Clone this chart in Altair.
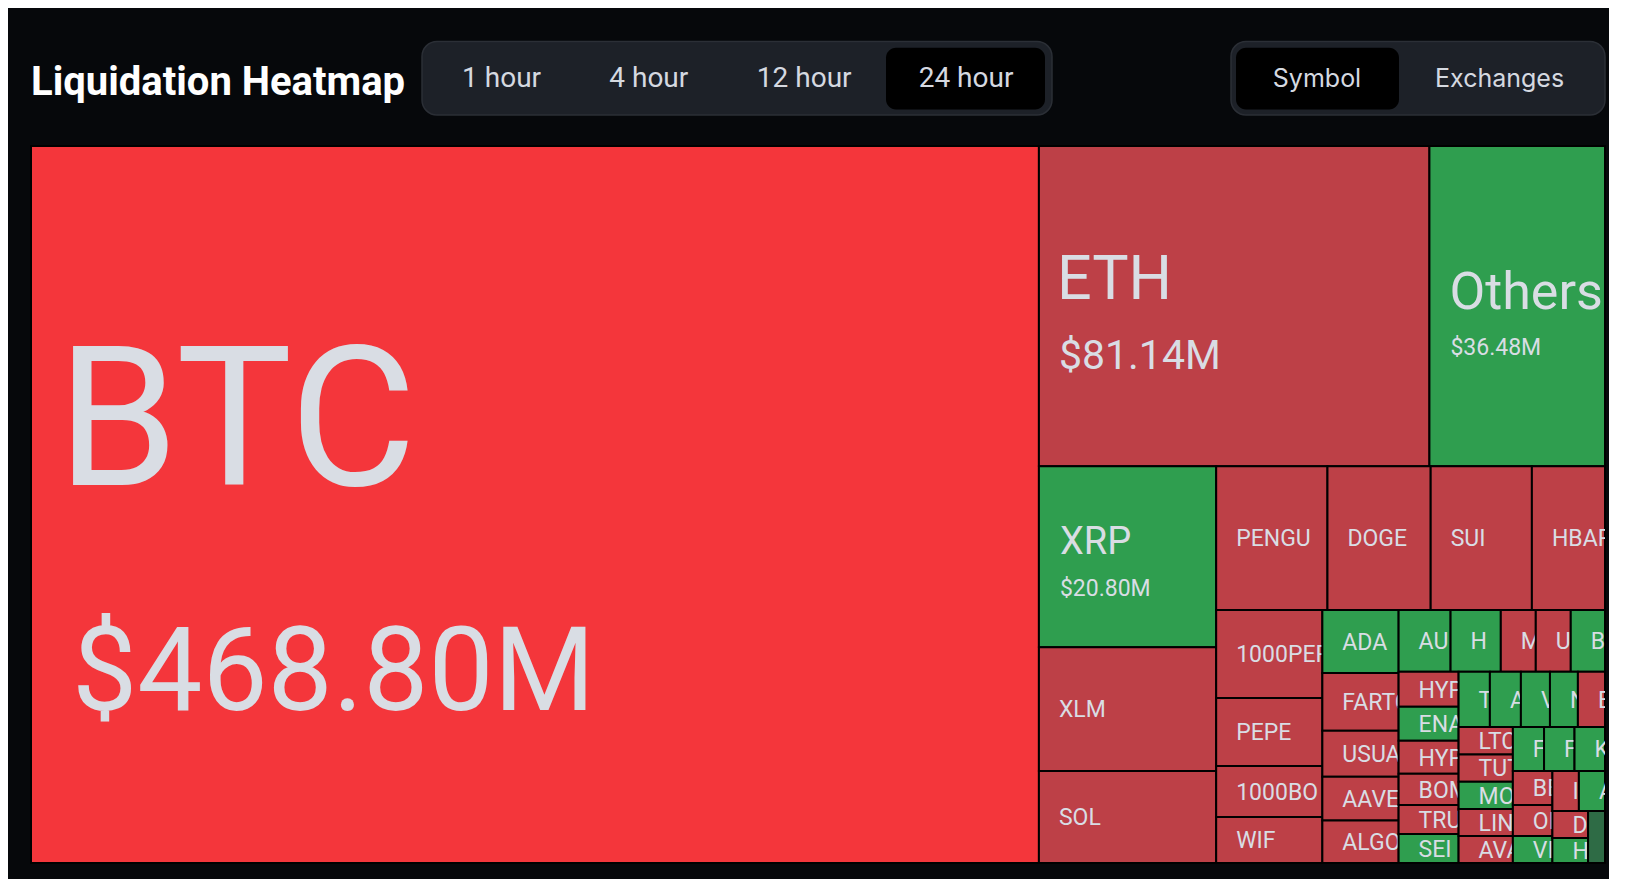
import altair as alt
import pandas as pd

# ---------------- data (24h liquidations, million USD) ----------------
symbols = [
    "BTC", "ETH", "Others", "XRP", "XLM", "SOL",
    "PENGU", "DOGE", "SUI", "HBAR",
    "1000PEPE", "PEPE", "1000BONK", "WIF",
    "ADA", "FARTCOIN", "USUAL", "AAVE", "ALGO",
    "AUCTION", "H", "MELANIA", "UNI", "BNB",
    "HYPE", "ENA", "HYPER", "BOME", "TRUMP", "SEI",
    "TAO", "ARB", "VET", "NEAR", "ETC",
    "LTC", "TUT", "MOVE", "LINK", "AVAX",
    "FIL", "FET", "KAITO",
    "BERA", "OP", "VIRTUAL",
    "IP", "ATOM",
    "DOT", "HUMA",
    "ONDO",
]
liquidation_musd = [
    468.80, 81.14, 36.48, 20.80, 14.25, 10.57,
    10.38, 9.63, 9.44, 6.82,
    6.06, 4.68, 3.51, 3.17,
    3.11, 2.86, 2.27, 2.17, 2.10,
    2.08, 2.01, 1.40, 1.40, 1.37,
    1.36, 1.32, 1.29, 1.21, 1.13, 1.13,
    1.12, 1.11, 1.04, 1.00, 0.97,
    0.97, 0.96, 0.96, 0.95, 0.95,
    0.89, 0.87, 0.87,
    0.87, 0.80, 0.69,
    0.69, 0.68,
    0.62, 0.58,
    0.57,
]
# dominant side: LH = heavy long, L = long, S = short, SL = light short
dominant_side = [
    "LH", "L", "S", "S", "L", "L",
    "L", "L", "L", "L",
    "L", "L", "L", "L",
    "S", "L", "L", "L", "L",
    "S", "S", "L", "L", "S",
    "L", "S", "L", "L", "L", "S",
    "S", "S", "S", "S", "L",
    "L", "L", "S", "L", "L",
    "S", "S", "S",
    "L", "L", "S",
    "L", "S",
    "L", "S",
    "SL",
]
VALUE_LABELED = ["BTC", "ETH", "Others", "XRP"]

HOUR_OPTIONS = ["1 hour", "4 hour", "12 hour", "24 hour"]
SELECTED_HOUR = "24 hour"
VIEW_OPTIONS = ["Symbol", "Exchanges"]
SELECTED_VIEW = "Symbol"
TITLE = "Liquidation Heatmap"

# ---------------- styles ----------------
BG = "#06080b"
SIDE_DOMAIN = ["LH", "L", "S", "SL"]
SIDE_RANGE = ["#f4363b", "#bd4047", "#2f9e4f", "#2e6b45"]
LABEL_COLOR = "#d9dde4"
FONT_CELL = "Roboto, sans-serif"
FONT_UI = "Inter, Roboto, sans-serif"
W, H = 1574, 717  # plot (treemap) area in px
OVERHANG = 12     # px a label may run past its cell before being cut

# (font size, left pad, baseline offset from cell middle)
LABEL_STYLE = {
    "BTC": {"name": (195, 26, -19.5), "value": (116, 41, 205.5)},
    "ETH": {"name": (61, 18, -7.5), "value": (41, 20, 63)},
    "Others": {"name": (52, 20, 2.8), "value": (23, 21, 48.4)},
    "XRP": {"name": (38, 21, -3.2), "value": (23, 21, 39.2)},
}
DEFAULT_NAME_STYLE = (23, 20, 8.3)

# ---------------- squarified treemap layout (d3 algorithm) ----------------
PHI = (1 + 5 ** 0.5) / 2


def squarify(values, x0, y0, x1, y1, ratio=PHI):
    n = len(values)
    out = [None] * n
    remaining = float(sum(values))
    i0 = 0
    while i0 < n:
        dx, dy = x1 - x0, y1 - y0
        s = values[i0]
        vmin = vmax = s
        alpha = max(dy / dx, dx / dy) / (remaining * ratio)
        beta = s * s * alpha
        best = max(vmax / beta, beta / vmin)
        i1 = i0 + 1
        while i1 < n:
            v = values[i1]
            s2 = s + v
            mn, mx = min(vmin, v), max(vmax, v)
            beta = s2 * s2 * alpha
            r = max(mx / beta, beta / mn)
            if r > best:
                break
            s, vmin, vmax, best = s2, mn, mx, r
            i1 += 1
        if dx < dy:
            ny = y0 + dy * s / remaining
            cx = x0
            for i in range(i0, i1):
                w = dx * values[i] / s
                out[i] = (cx, y0, cx + w, ny)
                cx += w
            y0 = ny
        else:
            nx = x0 + dx * s / remaining
            cy = y0
            for i in range(i0, i1):
                h = dy * values[i] / s
                out[i] = (x0, cy, nx, cy + h)
                cy += h
            x0 = nx
        remaining -= s
        i0 = i1
    return out


rects = squarify(liquidation_musd, 0, 0, W, H)

cells = pd.DataFrame({
    "cell": list(range(len(symbols))),
    "symbol": symbols,
    "value": liquidation_musd,
    "side": dominant_side,
    "x0": [r[0] for r in rects],
    "y0": [r[1] for r in rects],
    "x1": [r[2] for r in rects],
    "y1": [r[3] for r in rects],
})

label_rows = []
for i, sym in enumerate(symbols):
    x0, y0, x1, y1 = rects[i]
    mid = (y0 + y1) / 2
    st = LABEL_STYLE.get(sym, {"name": DEFAULT_NAME_STYLE})
    parts = [("name", sym)]
    if sym in VALUE_LABELED:
        parts.append(("value", f"${liquidation_musd[i]:.2f}M"))
    for key, txt in parts:
        fs, pad, dy = st[key]
        if x1 - x0 <= pad:  # no room for any label (as in the reference)
            continue
        label_rows.append({"cell": i, "label": txt, "fs": fs,
                           "lx": x0 + pad, "ly": mid + dy,
                           "lim": x1 - x0 - pad + OVERHANG})
labels = pd.DataFrame(label_rows)

XS = alt.Scale(domain=[0, W], nice=False, zero=False)
YS = alt.Scale(domain=[0, H], nice=False, zero=False, reverse=True)

# one rect + one label layer per cell, in layout order, so that each later
# cell covers the small overhang of the labels drawn before it
layers = []
labelled = set(labels["cell"])
for i in range(len(symbols)):
    rect = (
        alt.Chart(cells)
        .transform_filter(alt.datum.cell == i)
        .mark_rect(stroke="#000000", strokeWidth=2)
        .encode(
            x=alt.X("x0:Q", scale=XS, axis=None),
            x2="x1:Q",
            y=alt.Y("y0:Q", scale=YS, axis=None),
            y2="y1:Q",
            color=alt.Color("side:N", scale=alt.Scale(domain=SIDE_DOMAIN, range=SIDE_RANGE), legend=None),
        )
    )
    layers.append(rect)
    if i not in labelled:
        continue
    text = (
        alt.Chart(labels)
        .transform_filter(alt.datum.cell == i)
        .mark_text(align="left", baseline="alphabetic", font=FONT_CELL, color=LABEL_COLOR,
                   clip=True, limit=alt.ExprRef("datum.lim"), ellipsis="\u200b")
        .encode(
            x=alt.X("lx:Q", scale=XS, axis=None),
            y=alt.Y("ly:Q", scale=YS, axis=None),
            text="label:N",
            size=alt.Size("fs:Q", scale=None, legend=None),
        )
    )
    layers.append(text)

# ---------------- header (UI decoration, px relative to plot origin) ----------------
dummy = pd.DataFrame({"k": [0]})


def ui_box(x0, x1, y0, y1, fill, radius, stroke=None):
    kw = {"fill": fill, "cornerRadius": radius}
    if stroke:
        kw.update(stroke=stroke, strokeWidth=1.5)
    return alt.Chart(dummy).mark_rect(**kw).encode(
        x=alt.value(x0), x2=alt.value(x1), y=alt.value(y0), y2=alt.value(y1))


def ui_text(txt, x, y, size, font, color, weight="normal", align="center", baseline="middle"):
    return alt.Chart(dummy).mark_text(
        text=txt, font=font, fontSize=size, fontWeight=weight, color=color,
        align=align, baseline=baseline).encode(x=alt.value(x), y=alt.value(y))


HOUR_X = [470.6, 617.8, 773.2, 935.0]
VIEW_X = [1286.0, 1468.6]
header = [
    ui_text(TITLE, 0, -51, 40, "Roboto, sans-serif", "#ffffff",
            weight="bold", align="left", baseline="alphabetic"),
    ui_box(391, 1021, -104.5, -31, "#1d2128", 15, stroke="#2b2f36"),
    ui_box(1200, 1574, -104.5, -31, "#1d2128", 15, stroke="#2b2f36"),
]
sel_h = HOUR_OPTIONS.index(SELECTED_HOUR)
header.append(ui_box(HOUR_X[sel_h] - 80, HOUR_X[sel_h] + 79, -98.3, -36.5, "#000000", 10))
sel_v = VIEW_OPTIONS.index(SELECTED_VIEW)
header.append(ui_box(VIEW_X[sel_v] - 81, VIEW_X[sel_v] + 82, -98.3, -36.5, "#000000", 10))
for lab, x in zip(HOUR_OPTIONS, HOUR_X):
    header.append(ui_text(lab, x, -67.5, 28, FONT_CELL, "#d5d9e0"))
for lab, x in zip(VIEW_OPTIONS, VIEW_X):
    header.append(ui_text(lab, x, -67.5, 25, FONT_UI, "#d5d9e0"))

chart = (
    alt.layer(*layers, *header)
    .properties(
        width=W,
        height=H,
        padding={"left": 23, "top": 138, "right": 4, "bottom": 16},
        autosize=alt.AutoSizeParams(type="none"),
        background=BG,
    )
    .configure_view(stroke=None)
)

chart.save("out.html", embed_options={"renderer": "svg", "actions": False})
